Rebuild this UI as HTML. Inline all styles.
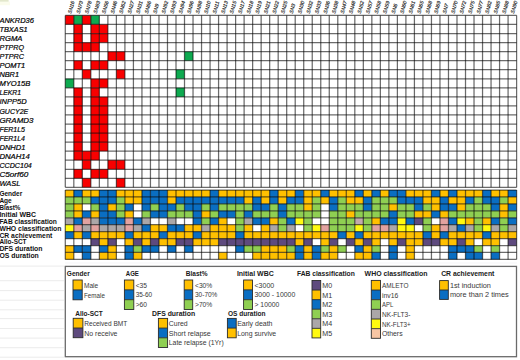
<!DOCTYPE html><html><head><meta charset="utf-8"><style>html,body{margin:0;padding:0;background:#fff;}body{width:520px;height:360px;overflow:hidden;}svg{display:block;font-family:"Liberation Sans",sans-serif;}</style></head><body>
<svg width="520" height="360" viewBox="0 0 520 360">
<rect x="0" y="0" width="520" height="360" fill="#fff"/>
<rect x="0" y="1.6" width="10" height="3.6" fill="#fbfcec"/>
<rect x="0" y="0" width="8.6" height="1.7" fill="#e3e8cc"/>
<rect x="0" y="265.60" width="64" height="1" fill="#ececec"/>
<rect x="0" y="280.20" width="64" height="1" fill="#ececec"/>
<rect x="0" y="290.10" width="64" height="1" fill="#ececec"/>
<rect x="0" y="299.70" width="64" height="1" fill="#ececec"/>
<rect x="0" y="309.30" width="64" height="1" fill="#ececec"/>
<rect x="0" y="318.10" width="64" height="1" fill="#ececec"/>
<rect x="0" y="328.00" width="64" height="1" fill="#ececec"/>
<rect x="0" y="337.60" width="64" height="1" fill="#ececec"/>
<rect x="0" y="347.20" width="64" height="1" fill="#ececec"/>
<rect x="0" y="356.70" width="64" height="1" fill="#ececec"/>
<text transform="translate(71.30,13.80) rotate(-75)" font-size="5.1" font-style="italic" fill="#1a1a1a" stroke="#1a1a1a" stroke-width="0.15">SN16</text>
<text transform="translate(79.81,13.80) rotate(-75)" font-size="5.1" font-style="italic" fill="#1a1a1a" stroke="#1a1a1a" stroke-width="0.15">SN73</text>
<text transform="translate(88.33,13.80) rotate(-75)" font-size="5.1" font-style="italic" fill="#1a1a1a" stroke="#1a1a1a" stroke-width="0.15">SN78</text>
<text transform="translate(96.84,13.80) rotate(-75)" font-size="5.1" font-style="italic" fill="#1a1a1a" stroke="#1a1a1a" stroke-width="0.15">SN83</text>
<text transform="translate(105.36,13.80) rotate(-75)" font-size="5.1" font-style="italic" fill="#1a1a1a" stroke="#1a1a1a" stroke-width="0.15">SN56</text>
<text transform="translate(113.88,13.80) rotate(-75)" font-size="5.1" font-style="italic" fill="#1a1a1a" stroke="#1a1a1a" stroke-width="0.15">SN46</text>
<text transform="translate(122.39,13.80) rotate(-75)" font-size="5.1" font-style="italic" fill="#1a1a1a" stroke="#1a1a1a" stroke-width="0.15">SN62</text>
<text transform="translate(130.91,13.80) rotate(-75)" font-size="5.1" font-style="italic" fill="#1a1a1a" stroke="#1a1a1a" stroke-width="0.15">SN27</text>
<text transform="translate(139.42,13.80) rotate(-75)" font-size="5.1" font-style="italic" fill="#1a1a1a" stroke="#1a1a1a" stroke-width="0.15">SN31</text>
<text transform="translate(147.94,13.80) rotate(-75)" font-size="5.1" font-style="italic" fill="#1a1a1a" stroke="#1a1a1a" stroke-width="0.15">SN66</text>
<text transform="translate(156.45,13.80) rotate(-75)" font-size="5.1" font-style="italic" fill="#1a1a1a" stroke="#1a1a1a" stroke-width="0.15">SN9</text>
<text transform="translate(164.97,13.80) rotate(-75)" font-size="5.1" font-style="italic" fill="#1a1a1a" stroke="#1a1a1a" stroke-width="0.15">SN92</text>
<text transform="translate(173.48,13.80) rotate(-75)" font-size="5.1" font-style="italic" fill="#1a1a1a" stroke="#1a1a1a" stroke-width="0.15">SN93</text>
<text transform="translate(182.00,13.80) rotate(-75)" font-size="5.1" font-style="italic" fill="#1a1a1a" stroke="#1a1a1a" stroke-width="0.15">SN94</text>
<text transform="translate(190.51,13.80) rotate(-75)" font-size="5.1" font-style="italic" fill="#1a1a1a" stroke="#1a1a1a" stroke-width="0.15">SN96</text>
<text transform="translate(199.03,13.80) rotate(-75)" font-size="5.1" font-style="italic" fill="#1a1a1a" stroke="#1a1a1a" stroke-width="0.15">SN98</text>
<text transform="translate(207.54,13.80) rotate(-75)" font-size="5.1" font-style="italic" fill="#1a1a1a" stroke="#1a1a1a" stroke-width="0.15">SN10</text>
<text transform="translate(216.06,13.80) rotate(-75)" font-size="5.1" font-style="italic" fill="#1a1a1a" stroke="#1a1a1a" stroke-width="0.15">SN11</text>
<text transform="translate(224.57,13.80) rotate(-75)" font-size="5.1" font-style="italic" fill="#1a1a1a" stroke="#1a1a1a" stroke-width="0.15">SN13</text>
<text transform="translate(233.09,13.80) rotate(-75)" font-size="5.1" font-style="italic" fill="#1a1a1a" stroke="#1a1a1a" stroke-width="0.15">SN15</text>
<text transform="translate(241.60,13.80) rotate(-75)" font-size="5.1" font-style="italic" fill="#1a1a1a" stroke="#1a1a1a" stroke-width="0.15">SN17</text>
<text transform="translate(250.12,13.80) rotate(-75)" font-size="5.1" font-style="italic" fill="#1a1a1a" stroke="#1a1a1a" stroke-width="0.15">SN18</text>
<text transform="translate(258.63,13.80) rotate(-75)" font-size="5.1" font-style="italic" fill="#1a1a1a" stroke="#1a1a1a" stroke-width="0.15">SN19</text>
<text transform="translate(267.15,13.80) rotate(-75)" font-size="5.1" font-style="italic" fill="#1a1a1a" stroke="#1a1a1a" stroke-width="0.15">SN21</text>
<text transform="translate(275.66,13.80) rotate(-75)" font-size="5.1" font-style="italic" fill="#1a1a1a" stroke="#1a1a1a" stroke-width="0.15">SN22</text>
<text transform="translate(284.18,13.80) rotate(-75)" font-size="5.1" font-style="italic" fill="#1a1a1a" stroke="#1a1a1a" stroke-width="0.15">SN25</text>
<text transform="translate(292.69,13.80) rotate(-75)" font-size="5.1" font-style="italic" fill="#1a1a1a" stroke="#1a1a1a" stroke-width="0.15">SN3</text>
<text transform="translate(301.21,13.80) rotate(-75)" font-size="5.1" font-style="italic" fill="#1a1a1a" stroke="#1a1a1a" stroke-width="0.15">SN30</text>
<text transform="translate(309.72,13.80) rotate(-75)" font-size="5.1" font-style="italic" fill="#1a1a1a" stroke="#1a1a1a" stroke-width="0.15">SN32</text>
<text transform="translate(318.24,13.80) rotate(-75)" font-size="5.1" font-style="italic" fill="#1a1a1a" stroke="#1a1a1a" stroke-width="0.15">SN33</text>
<text transform="translate(326.75,13.80) rotate(-75)" font-size="5.1" font-style="italic" fill="#1a1a1a" stroke="#1a1a1a" stroke-width="0.15">SN36</text>
<text transform="translate(335.27,13.80) rotate(-75)" font-size="5.1" font-style="italic" fill="#1a1a1a" stroke="#1a1a1a" stroke-width="0.15">SN38</text>
<text transform="translate(343.78,13.80) rotate(-75)" font-size="5.1" font-style="italic" fill="#1a1a1a" stroke="#1a1a1a" stroke-width="0.15">SN47</text>
<text transform="translate(352.30,13.80) rotate(-75)" font-size="5.1" font-style="italic" fill="#1a1a1a" stroke="#1a1a1a" stroke-width="0.15">SN48</text>
<text transform="translate(360.81,13.80) rotate(-75)" font-size="5.1" font-style="italic" fill="#1a1a1a" stroke="#1a1a1a" stroke-width="0.15">SN52</text>
<text transform="translate(369.33,13.80) rotate(-75)" font-size="5.1" font-style="italic" fill="#1a1a1a" stroke="#1a1a1a" stroke-width="0.15">SN57</text>
<text transform="translate(377.84,13.80) rotate(-75)" font-size="5.1" font-style="italic" fill="#1a1a1a" stroke="#1a1a1a" stroke-width="0.15">SN58</text>
<text transform="translate(386.36,13.80) rotate(-75)" font-size="5.1" font-style="italic" fill="#1a1a1a" stroke="#1a1a1a" stroke-width="0.15">SN59</text>
<text transform="translate(394.87,13.80) rotate(-75)" font-size="5.1" font-style="italic" fill="#1a1a1a" stroke="#1a1a1a" stroke-width="0.15">SN6</text>
<text transform="translate(403.39,13.80) rotate(-75)" font-size="5.1" font-style="italic" fill="#1a1a1a" stroke="#1a1a1a" stroke-width="0.15">SN60</text>
<text transform="translate(411.90,13.80) rotate(-75)" font-size="5.1" font-style="italic" fill="#1a1a1a" stroke="#1a1a1a" stroke-width="0.15">SN61</text>
<text transform="translate(420.42,13.80) rotate(-75)" font-size="5.1" font-style="italic" fill="#1a1a1a" stroke="#1a1a1a" stroke-width="0.15">SN65</text>
<text transform="translate(428.93,13.80) rotate(-75)" font-size="5.1" font-style="italic" fill="#1a1a1a" stroke="#1a1a1a" stroke-width="0.15">SN68</text>
<text transform="translate(437.45,13.80) rotate(-75)" font-size="5.1" font-style="italic" fill="#1a1a1a" stroke="#1a1a1a" stroke-width="0.15">SN69</text>
<text transform="translate(445.96,13.80) rotate(-75)" font-size="5.1" font-style="italic" fill="#1a1a1a" stroke="#1a1a1a" stroke-width="0.15">SN7</text>
<text transform="translate(454.48,13.80) rotate(-75)" font-size="5.1" font-style="italic" fill="#1a1a1a" stroke="#1a1a1a" stroke-width="0.15">SN70</text>
<text transform="translate(462.99,13.80) rotate(-75)" font-size="5.1" font-style="italic" fill="#1a1a1a" stroke="#1a1a1a" stroke-width="0.15">SN72</text>
<text transform="translate(471.51,13.80) rotate(-75)" font-size="5.1" font-style="italic" fill="#1a1a1a" stroke="#1a1a1a" stroke-width="0.15">SN75</text>
<text transform="translate(480.02,13.80) rotate(-75)" font-size="5.1" font-style="italic" fill="#1a1a1a" stroke="#1a1a1a" stroke-width="0.15">SN77</text>
<text transform="translate(488.54,13.80) rotate(-75)" font-size="5.1" font-style="italic" fill="#1a1a1a" stroke="#1a1a1a" stroke-width="0.15">SN82</text>
<text transform="translate(497.05,13.80) rotate(-75)" font-size="5.1" font-style="italic" fill="#1a1a1a" stroke="#1a1a1a" stroke-width="0.15">SN85</text>
<text transform="translate(505.57,13.80) rotate(-75)" font-size="5.1" font-style="italic" fill="#1a1a1a" stroke="#1a1a1a" stroke-width="0.15">SN88</text>
<text transform="translate(514.08,13.80) rotate(-75)" font-size="5.1" font-style="italic" fill="#1a1a1a" stroke="#1a1a1a" stroke-width="0.15">SN90</text>
<rect x="65.30" y="15.40" width="8.515" height="9.050" fill="#F80000"/>
<rect x="73.81" y="15.40" width="8.515" height="9.050" fill="#0EAA50"/>
<rect x="82.33" y="15.40" width="8.515" height="9.050" fill="#F80000"/>
<rect x="90.84" y="15.40" width="8.515" height="9.050" fill="#0EAA50"/>
<rect x="73.81" y="24.45" width="8.515" height="9.050" fill="#F80000"/>
<rect x="90.84" y="24.45" width="8.515" height="9.050" fill="#F80000"/>
<rect x="99.36" y="24.45" width="8.515" height="9.050" fill="#F80000"/>
<rect x="73.81" y="33.50" width="8.515" height="9.050" fill="#F80000"/>
<rect x="90.84" y="33.50" width="8.515" height="9.050" fill="#F80000"/>
<rect x="99.36" y="33.50" width="8.515" height="9.050" fill="#F80000"/>
<rect x="73.81" y="42.55" width="8.515" height="9.050" fill="#F80000"/>
<rect x="82.33" y="42.55" width="8.515" height="9.050" fill="#F80000"/>
<rect x="90.84" y="42.55" width="8.515" height="9.050" fill="#F80000"/>
<rect x="107.88" y="51.60" width="8.515" height="9.050" fill="#F80000"/>
<rect x="116.39" y="51.60" width="8.515" height="9.050" fill="#F80000"/>
<rect x="184.51" y="51.60" width="8.515" height="9.050" fill="#0EAA50"/>
<rect x="73.81" y="60.65" width="8.515" height="9.050" fill="#F80000"/>
<rect x="90.84" y="60.65" width="8.515" height="9.050" fill="#F80000"/>
<rect x="99.36" y="60.65" width="8.515" height="9.050" fill="#F80000"/>
<rect x="82.33" y="69.70" width="8.515" height="9.050" fill="#F80000"/>
<rect x="116.39" y="69.70" width="8.515" height="9.050" fill="#F80000"/>
<rect x="176.00" y="69.70" width="8.515" height="9.050" fill="#0EAA50"/>
<rect x="65.30" y="78.75" width="8.515" height="9.050" fill="#0EAA50"/>
<rect x="90.84" y="78.75" width="8.515" height="9.050" fill="#F80000"/>
<rect x="99.36" y="78.75" width="8.515" height="9.050" fill="#F80000"/>
<rect x="73.81" y="87.80" width="8.515" height="9.050" fill="#F80000"/>
<rect x="90.84" y="87.80" width="8.515" height="9.050" fill="#F80000"/>
<rect x="176.00" y="87.80" width="8.515" height="9.050" fill="#0EAA50"/>
<rect x="73.81" y="96.85" width="8.515" height="9.050" fill="#F80000"/>
<rect x="90.84" y="96.85" width="8.515" height="9.050" fill="#F80000"/>
<rect x="99.36" y="96.85" width="8.515" height="9.050" fill="#F80000"/>
<rect x="73.81" y="105.90" width="8.515" height="9.050" fill="#F80000"/>
<rect x="90.84" y="105.90" width="8.515" height="9.050" fill="#F80000"/>
<rect x="99.36" y="105.90" width="8.515" height="9.050" fill="#F80000"/>
<rect x="73.81" y="114.95" width="8.515" height="9.050" fill="#F80000"/>
<rect x="90.84" y="114.95" width="8.515" height="9.050" fill="#F80000"/>
<rect x="99.36" y="114.95" width="8.515" height="9.050" fill="#F80000"/>
<rect x="73.81" y="124.00" width="8.515" height="9.050" fill="#F80000"/>
<rect x="90.84" y="124.00" width="8.515" height="9.050" fill="#F80000"/>
<rect x="99.36" y="124.00" width="8.515" height="9.050" fill="#F80000"/>
<rect x="73.81" y="133.05" width="8.515" height="9.050" fill="#F80000"/>
<rect x="90.84" y="133.05" width="8.515" height="9.050" fill="#F80000"/>
<rect x="99.36" y="133.05" width="8.515" height="9.050" fill="#F80000"/>
<rect x="73.81" y="142.10" width="8.515" height="9.050" fill="#F80000"/>
<rect x="90.84" y="142.10" width="8.515" height="9.050" fill="#F80000"/>
<rect x="99.36" y="142.10" width="8.515" height="9.050" fill="#F80000"/>
<rect x="73.81" y="151.15" width="8.515" height="9.050" fill="#F80000"/>
<rect x="82.33" y="151.15" width="8.515" height="9.050" fill="#F80000"/>
<rect x="90.84" y="151.15" width="8.515" height="9.050" fill="#F80000"/>
<rect x="82.33" y="160.20" width="8.515" height="9.050" fill="#F80000"/>
<rect x="107.88" y="160.20" width="8.515" height="9.050" fill="#F80000"/>
<rect x="116.39" y="160.20" width="8.515" height="9.050" fill="#F80000"/>
<rect x="73.81" y="169.25" width="8.515" height="9.050" fill="#F80000"/>
<rect x="90.84" y="169.25" width="8.515" height="9.050" fill="#F80000"/>
<rect x="99.36" y="169.25" width="8.515" height="9.050" fill="#F80000"/>
<rect x="82.33" y="178.30" width="8.515" height="9.050" fill="#F80000"/>
<rect x="116.39" y="178.30" width="8.515" height="9.050" fill="#F80000"/>
<g stroke="#000" stroke-opacity="0.58" stroke-width="1.25">
<line x1="65.30" y1="15.40" x2="65.30" y2="187.35"/>
<line x1="73.81" y1="15.40" x2="73.81" y2="187.35"/>
<line x1="82.33" y1="15.40" x2="82.33" y2="187.35"/>
<line x1="90.84" y1="15.40" x2="90.84" y2="187.35"/>
<line x1="99.36" y1="15.40" x2="99.36" y2="187.35"/>
<line x1="107.88" y1="15.40" x2="107.88" y2="187.35"/>
<line x1="116.39" y1="15.40" x2="116.39" y2="187.35"/>
<line x1="124.91" y1="15.40" x2="124.91" y2="187.35"/>
<line x1="133.42" y1="15.40" x2="133.42" y2="187.35"/>
<line x1="141.94" y1="15.40" x2="141.94" y2="187.35"/>
<line x1="150.45" y1="15.40" x2="150.45" y2="187.35"/>
<line x1="158.97" y1="15.40" x2="158.97" y2="187.35"/>
<line x1="167.48" y1="15.40" x2="167.48" y2="187.35"/>
<line x1="176.00" y1="15.40" x2="176.00" y2="187.35"/>
<line x1="184.51" y1="15.40" x2="184.51" y2="187.35"/>
<line x1="193.03" y1="15.40" x2="193.03" y2="187.35"/>
<line x1="201.54" y1="15.40" x2="201.54" y2="187.35"/>
<line x1="210.06" y1="15.40" x2="210.06" y2="187.35"/>
<line x1="218.57" y1="15.40" x2="218.57" y2="187.35"/>
<line x1="227.09" y1="15.40" x2="227.09" y2="187.35"/>
<line x1="235.60" y1="15.40" x2="235.60" y2="187.35"/>
<line x1="244.12" y1="15.40" x2="244.12" y2="187.35"/>
<line x1="252.63" y1="15.40" x2="252.63" y2="187.35"/>
<line x1="261.15" y1="15.40" x2="261.15" y2="187.35"/>
<line x1="269.66" y1="15.40" x2="269.66" y2="187.35"/>
<line x1="278.18" y1="15.40" x2="278.18" y2="187.35"/>
<line x1="286.69" y1="15.40" x2="286.69" y2="187.35"/>
<line x1="295.21" y1="15.40" x2="295.21" y2="187.35"/>
<line x1="303.72" y1="15.40" x2="303.72" y2="187.35"/>
<line x1="312.24" y1="15.40" x2="312.24" y2="187.35"/>
<line x1="320.75" y1="15.40" x2="320.75" y2="187.35"/>
<line x1="329.27" y1="15.40" x2="329.27" y2="187.35"/>
<line x1="337.78" y1="15.40" x2="337.78" y2="187.35"/>
<line x1="346.30" y1="15.40" x2="346.30" y2="187.35"/>
<line x1="354.81" y1="15.40" x2="354.81" y2="187.35"/>
<line x1="363.33" y1="15.40" x2="363.33" y2="187.35"/>
<line x1="371.84" y1="15.40" x2="371.84" y2="187.35"/>
<line x1="380.36" y1="15.40" x2="380.36" y2="187.35"/>
<line x1="388.87" y1="15.40" x2="388.87" y2="187.35"/>
<line x1="397.39" y1="15.40" x2="397.39" y2="187.35"/>
<line x1="405.90" y1="15.40" x2="405.90" y2="187.35"/>
<line x1="414.42" y1="15.40" x2="414.42" y2="187.35"/>
<line x1="422.93" y1="15.40" x2="422.93" y2="187.35"/>
<line x1="431.45" y1="15.40" x2="431.45" y2="187.35"/>
<line x1="439.96" y1="15.40" x2="439.96" y2="187.35"/>
<line x1="448.48" y1="15.40" x2="448.48" y2="187.35"/>
<line x1="456.99" y1="15.40" x2="456.99" y2="187.35"/>
<line x1="465.51" y1="15.40" x2="465.51" y2="187.35"/>
<line x1="474.02" y1="15.40" x2="474.02" y2="187.35"/>
<line x1="482.54" y1="15.40" x2="482.54" y2="187.35"/>
<line x1="491.05" y1="15.40" x2="491.05" y2="187.35"/>
<line x1="499.57" y1="15.40" x2="499.57" y2="187.35"/>
<line x1="508.08" y1="15.40" x2="508.08" y2="187.35"/>
<line x1="516.60" y1="15.40" x2="516.60" y2="187.35"/>
<line x1="65.30" y1="15.40" x2="516.60" y2="15.40"/>
<line x1="65.30" y1="24.45" x2="516.60" y2="24.45"/>
<line x1="65.30" y1="33.50" x2="516.60" y2="33.50"/>
<line x1="65.30" y1="42.55" x2="516.60" y2="42.55"/>
<line x1="65.30" y1="51.60" x2="516.60" y2="51.60"/>
<line x1="65.30" y1="60.65" x2="516.60" y2="60.65"/>
<line x1="65.30" y1="69.70" x2="516.60" y2="69.70"/>
<line x1="65.30" y1="78.75" x2="516.60" y2="78.75"/>
<line x1="65.30" y1="87.80" x2="516.60" y2="87.80"/>
<line x1="65.30" y1="96.85" x2="516.60" y2="96.85"/>
<line x1="65.30" y1="105.90" x2="516.60" y2="105.90"/>
<line x1="65.30" y1="114.95" x2="516.60" y2="114.95"/>
<line x1="65.30" y1="124.00" x2="516.60" y2="124.00"/>
<line x1="65.30" y1="133.05" x2="516.60" y2="133.05"/>
<line x1="65.30" y1="142.10" x2="516.60" y2="142.10"/>
<line x1="65.30" y1="151.15" x2="516.60" y2="151.15"/>
<line x1="65.30" y1="160.20" x2="516.60" y2="160.20"/>
<line x1="65.30" y1="169.25" x2="516.60" y2="169.25"/>
<line x1="65.30" y1="178.30" x2="516.60" y2="178.30"/>
<line x1="65.30" y1="187.35" x2="516.60" y2="187.35"/>
</g>
<text x="-0.6" y="23.03" font-size="7.7" font-style="italic" fill="#000" stroke="#000" stroke-width="0.2" textLength="34.5" lengthAdjust="spacingAndGlyphs">ANKRD36</text>
<text x="-0.6" y="32.08" font-size="7.7" font-style="italic" fill="#000" stroke="#000" stroke-width="0.2" textLength="28.3" lengthAdjust="spacingAndGlyphs">TBXAS1</text>
<text x="-0.6" y="41.12" font-size="7.7" font-style="italic" fill="#000" stroke="#000" stroke-width="0.2" textLength="23.1" lengthAdjust="spacingAndGlyphs">RGMA</text>
<text x="-0.6" y="50.18" font-size="7.7" font-style="italic" fill="#000" stroke="#000" stroke-width="0.2" textLength="24.7" lengthAdjust="spacingAndGlyphs">PTPRQ</text>
<text x="-0.6" y="59.23" font-size="7.7" font-style="italic" fill="#000" stroke="#000" stroke-width="0.2" textLength="24.7" lengthAdjust="spacingAndGlyphs">PTPRC</text>
<text x="-0.6" y="68.27" font-size="7.7" font-style="italic" fill="#000" stroke="#000" stroke-width="0.2" textLength="25.9" lengthAdjust="spacingAndGlyphs">POMT1</text>
<text x="-0.6" y="77.33" font-size="7.7" font-style="italic" fill="#000" stroke="#000" stroke-width="0.2" textLength="19.6" lengthAdjust="spacingAndGlyphs">NBR1</text>
<text x="-0.6" y="86.38" font-size="7.7" font-style="italic" fill="#000" stroke="#000" stroke-width="0.2" textLength="30.9" lengthAdjust="spacingAndGlyphs">MYO15B</text>
<text x="-0.6" y="95.43" font-size="7.7" font-style="italic" fill="#000" stroke="#000" stroke-width="0.2" textLength="21.6" lengthAdjust="spacingAndGlyphs">LEKR1</text>
<text x="-0.6" y="104.48" font-size="7.7" font-style="italic" fill="#000" stroke="#000" stroke-width="0.2" textLength="27.3" lengthAdjust="spacingAndGlyphs">INPP5D</text>
<text x="-0.6" y="113.53" font-size="7.7" font-style="italic" fill="#000" stroke="#000" stroke-width="0.2" textLength="28.9" lengthAdjust="spacingAndGlyphs">GUCY2E</text>
<text x="-0.6" y="122.58" font-size="7.7" font-style="italic" fill="#000" stroke="#000" stroke-width="0.2" textLength="34.0" lengthAdjust="spacingAndGlyphs">GRAMD3</text>
<text x="-0.6" y="131.62" font-size="7.7" font-style="italic" fill="#000" stroke="#000" stroke-width="0.2" textLength="25.6" lengthAdjust="spacingAndGlyphs">FER1L5</text>
<text x="-0.6" y="140.68" font-size="7.7" font-style="italic" fill="#000" stroke="#000" stroke-width="0.2" textLength="25.6" lengthAdjust="spacingAndGlyphs">FER1L4</text>
<text x="-0.6" y="149.73" font-size="7.7" font-style="italic" fill="#000" stroke="#000" stroke-width="0.2" textLength="26.1" lengthAdjust="spacingAndGlyphs">DNHD1</text>
<text x="-0.6" y="158.78" font-size="7.7" font-style="italic" fill="#000" stroke="#000" stroke-width="0.2" textLength="30.5" lengthAdjust="spacingAndGlyphs">DNAH14</text>
<text x="-0.6" y="167.83" font-size="7.7" font-style="italic" fill="#000" stroke="#000" stroke-width="0.2" textLength="32.4" lengthAdjust="spacingAndGlyphs">CCDC104</text>
<text x="-0.6" y="176.88" font-size="7.7" font-style="italic" fill="#000" stroke="#000" stroke-width="0.2" textLength="29.0" lengthAdjust="spacingAndGlyphs">C5orf60</text>
<text x="-0.6" y="185.93" font-size="7.7" font-style="italic" fill="#000" stroke="#000" stroke-width="0.2" textLength="21.0" lengthAdjust="spacingAndGlyphs">WASL</text>
<rect x="65.30" y="190.00" width="8.515" height="6.940" fill="#FFC000"/>
<rect x="73.81" y="190.00" width="8.515" height="6.940" fill="#0A6EC2"/>
<rect x="82.33" y="190.00" width="8.515" height="6.940" fill="#FFC000"/>
<rect x="90.84" y="190.00" width="8.515" height="6.940" fill="#FFC000"/>
<rect x="99.36" y="190.00" width="8.515" height="6.940" fill="#0A6EC2"/>
<rect x="107.88" y="190.00" width="8.515" height="6.940" fill="#0A6EC2"/>
<rect x="116.39" y="190.00" width="8.515" height="6.940" fill="#FFC000"/>
<rect x="124.91" y="190.00" width="8.515" height="6.940" fill="#FFC000"/>
<rect x="133.42" y="190.00" width="8.515" height="6.940" fill="#FFC000"/>
<rect x="141.94" y="190.00" width="8.515" height="6.940" fill="#0A6EC2"/>
<rect x="150.45" y="190.00" width="8.515" height="6.940" fill="#0A6EC2"/>
<rect x="158.97" y="190.00" width="8.515" height="6.940" fill="#0A6EC2"/>
<rect x="167.48" y="190.00" width="8.515" height="6.940" fill="#FFC000"/>
<rect x="176.00" y="190.00" width="8.515" height="6.940" fill="#FFC000"/>
<rect x="184.51" y="190.00" width="8.515" height="6.940" fill="#FFC000"/>
<rect x="193.03" y="190.00" width="8.515" height="6.940" fill="#FFC000"/>
<rect x="201.54" y="190.00" width="8.515" height="6.940" fill="#FFC000"/>
<rect x="210.06" y="190.00" width="8.515" height="6.940" fill="#0A6EC2"/>
<rect x="218.57" y="190.00" width="8.515" height="6.940" fill="#FFC000"/>
<rect x="227.09" y="190.00" width="8.515" height="6.940" fill="#FFC000"/>
<rect x="235.60" y="190.00" width="8.515" height="6.940" fill="#FFC000"/>
<rect x="244.12" y="190.00" width="8.515" height="6.940" fill="#FFC000"/>
<rect x="252.63" y="190.00" width="8.515" height="6.940" fill="#FFC000"/>
<rect x="261.15" y="190.00" width="8.515" height="6.940" fill="#FFC000"/>
<rect x="269.66" y="190.00" width="8.515" height="6.940" fill="#0A6EC2"/>
<rect x="278.18" y="190.00" width="8.515" height="6.940" fill="#FFC000"/>
<rect x="286.69" y="190.00" width="8.515" height="6.940" fill="#FFC000"/>
<rect x="295.21" y="190.00" width="8.515" height="6.940" fill="#0A6EC2"/>
<rect x="303.72" y="190.00" width="8.515" height="6.940" fill="#FFC000"/>
<rect x="312.24" y="190.00" width="8.515" height="6.940" fill="#FFC000"/>
<rect x="320.75" y="190.00" width="8.515" height="6.940" fill="#0A6EC2"/>
<rect x="329.27" y="190.00" width="8.515" height="6.940" fill="#FFC000"/>
<rect x="337.78" y="190.00" width="8.515" height="6.940" fill="#FFC000"/>
<rect x="346.30" y="190.00" width="8.515" height="6.940" fill="#FFC000"/>
<rect x="354.81" y="190.00" width="8.515" height="6.940" fill="#0A6EC2"/>
<rect x="363.33" y="190.00" width="8.515" height="6.940" fill="#FFC000"/>
<rect x="371.84" y="190.00" width="8.515" height="6.940" fill="#0A6EC2"/>
<rect x="380.36" y="190.00" width="8.515" height="6.940" fill="#FFC000"/>
<rect x="388.87" y="190.00" width="8.515" height="6.940" fill="#0A6EC2"/>
<rect x="397.39" y="190.00" width="8.515" height="6.940" fill="#0A6EC2"/>
<rect x="405.90" y="190.00" width="8.515" height="6.940" fill="#FFC000"/>
<rect x="414.42" y="190.00" width="8.515" height="6.940" fill="#FFC000"/>
<rect x="422.93" y="190.00" width="8.515" height="6.940" fill="#FFC000"/>
<rect x="431.45" y="190.00" width="8.515" height="6.940" fill="#0A6EC2"/>
<rect x="439.96" y="190.00" width="8.515" height="6.940" fill="#FFC000"/>
<rect x="448.48" y="190.00" width="8.515" height="6.940" fill="#0A6EC2"/>
<rect x="456.99" y="190.00" width="8.515" height="6.940" fill="#FFC000"/>
<rect x="465.51" y="190.00" width="8.515" height="6.940" fill="#FFC000"/>
<rect x="474.02" y="190.00" width="8.515" height="6.940" fill="#FFC000"/>
<rect x="482.54" y="190.00" width="8.515" height="6.940" fill="#0A6EC2"/>
<rect x="491.05" y="190.00" width="8.515" height="6.940" fill="#FFC000"/>
<rect x="499.57" y="190.00" width="8.515" height="6.940" fill="#FFC000"/>
<rect x="508.08" y="190.00" width="8.515" height="6.940" fill="#0A6EC2"/>
<rect x="65.30" y="196.94" width="8.515" height="6.940" fill="#8FCF52"/>
<rect x="73.81" y="196.94" width="8.515" height="6.940" fill="#8FCF52"/>
<rect x="82.33" y="196.94" width="8.515" height="6.940" fill="#8FCF52"/>
<rect x="90.84" y="196.94" width="8.515" height="6.940" fill="#0A6EC2"/>
<rect x="99.36" y="196.94" width="8.515" height="6.940" fill="#0A6EC2"/>
<rect x="107.88" y="196.94" width="8.515" height="6.940" fill="#0A6EC2"/>
<rect x="116.39" y="196.94" width="8.515" height="6.940" fill="#8FCF52"/>
<rect x="124.91" y="196.94" width="8.515" height="6.940" fill="#FFC000"/>
<rect x="133.42" y="196.94" width="8.515" height="6.940" fill="#FFC000"/>
<rect x="141.94" y="196.94" width="8.515" height="6.940" fill="#0A6EC2"/>
<rect x="150.45" y="196.94" width="8.515" height="6.940" fill="#0A6EC2"/>
<rect x="158.97" y="196.94" width="8.515" height="6.940" fill="#0A6EC2"/>
<rect x="167.48" y="196.94" width="8.515" height="6.940" fill="#FFC000"/>
<rect x="176.00" y="196.94" width="8.515" height="6.940" fill="#0A6EC2"/>
<rect x="184.51" y="196.94" width="8.515" height="6.940" fill="#0A6EC2"/>
<rect x="193.03" y="196.94" width="8.515" height="6.940" fill="#0A6EC2"/>
<rect x="201.54" y="196.94" width="8.515" height="6.940" fill="#0A6EC2"/>
<rect x="210.06" y="196.94" width="8.515" height="6.940" fill="#0A6EC2"/>
<rect x="218.57" y="196.94" width="8.515" height="6.940" fill="#0A6EC2"/>
<rect x="227.09" y="196.94" width="8.515" height="6.940" fill="#0A6EC2"/>
<rect x="235.60" y="196.94" width="8.515" height="6.940" fill="#0A6EC2"/>
<rect x="244.12" y="196.94" width="8.515" height="6.940" fill="#FFC000"/>
<rect x="252.63" y="196.94" width="8.515" height="6.940" fill="#0A6EC2"/>
<rect x="261.15" y="196.94" width="8.515" height="6.940" fill="#FFC000"/>
<rect x="269.66" y="196.94" width="8.515" height="6.940" fill="#0A6EC2"/>
<rect x="278.18" y="196.94" width="8.515" height="6.940" fill="#FFC000"/>
<rect x="286.69" y="196.94" width="8.515" height="6.940" fill="#0A6EC2"/>
<rect x="295.21" y="196.94" width="8.515" height="6.940" fill="#0A6EC2"/>
<rect x="303.72" y="196.94" width="8.515" height="6.940" fill="#FFC000"/>
<rect x="312.24" y="196.94" width="8.515" height="6.940" fill="#8FCF52"/>
<rect x="320.75" y="196.94" width="8.515" height="6.940" fill="#FFC000"/>
<rect x="329.27" y="196.94" width="8.515" height="6.940" fill="#0A6EC2"/>
<rect x="337.78" y="196.94" width="8.515" height="6.940" fill="#8FCF52"/>
<rect x="346.30" y="196.94" width="8.515" height="6.940" fill="#FFC000"/>
<rect x="354.81" y="196.94" width="8.515" height="6.940" fill="#FFC000"/>
<rect x="363.33" y="196.94" width="8.515" height="6.940" fill="#0A6EC2"/>
<rect x="371.84" y="196.94" width="8.515" height="6.940" fill="#8FCF52"/>
<rect x="380.36" y="196.94" width="8.515" height="6.940" fill="#8FCF52"/>
<rect x="388.87" y="196.94" width="8.515" height="6.940" fill="#8FCF52"/>
<rect x="397.39" y="196.94" width="8.515" height="6.940" fill="#0A6EC2"/>
<rect x="405.90" y="196.94" width="8.515" height="6.940" fill="#0A6EC2"/>
<rect x="414.42" y="196.94" width="8.515" height="6.940" fill="#0A6EC2"/>
<rect x="422.93" y="196.94" width="8.515" height="6.940" fill="#FFC000"/>
<rect x="431.45" y="196.94" width="8.515" height="6.940" fill="#FFC000"/>
<rect x="439.96" y="196.94" width="8.515" height="6.940" fill="#0A6EC2"/>
<rect x="448.48" y="196.94" width="8.515" height="6.940" fill="#FFC000"/>
<rect x="456.99" y="196.94" width="8.515" height="6.940" fill="#FFC000"/>
<rect x="465.51" y="196.94" width="8.515" height="6.940" fill="#0A6EC2"/>
<rect x="474.02" y="196.94" width="8.515" height="6.940" fill="#8FCF52"/>
<rect x="482.54" y="196.94" width="8.515" height="6.940" fill="#0A6EC2"/>
<rect x="491.05" y="196.94" width="8.515" height="6.940" fill="#0A6EC2"/>
<rect x="499.57" y="196.94" width="8.515" height="6.940" fill="#8FCF52"/>
<rect x="508.08" y="196.94" width="8.515" height="6.940" fill="#FFC000"/>
<rect x="65.30" y="203.88" width="8.515" height="6.940" fill="#8FCF52"/>
<rect x="73.81" y="203.88" width="8.515" height="6.940" fill="#FFC000"/>
<rect x="90.84" y="203.88" width="8.515" height="6.940" fill="#8FCF52"/>
<rect x="99.36" y="203.88" width="8.515" height="6.940" fill="#0A6EC2"/>
<rect x="107.88" y="203.88" width="8.515" height="6.940" fill="#FFC000"/>
<rect x="116.39" y="203.88" width="8.515" height="6.940" fill="#8FCF52"/>
<rect x="124.91" y="203.88" width="8.515" height="6.940" fill="#0A6EC2"/>
<rect x="141.94" y="203.88" width="8.515" height="6.940" fill="#0A6EC2"/>
<rect x="150.45" y="203.88" width="8.515" height="6.940" fill="#8FCF52"/>
<rect x="158.97" y="203.88" width="8.515" height="6.940" fill="#0A6EC2"/>
<rect x="167.48" y="203.88" width="8.515" height="6.940" fill="#0A6EC2"/>
<rect x="176.00" y="203.88" width="8.515" height="6.940" fill="#8FCF52"/>
<rect x="184.51" y="203.88" width="8.515" height="6.940" fill="#0A6EC2"/>
<rect x="193.03" y="203.88" width="8.515" height="6.940" fill="#0A6EC2"/>
<rect x="201.54" y="203.88" width="8.515" height="6.940" fill="#8FCF52"/>
<rect x="210.06" y="203.88" width="8.515" height="6.940" fill="#0A6EC2"/>
<rect x="218.57" y="203.88" width="8.515" height="6.940" fill="#8FCF52"/>
<rect x="227.09" y="203.88" width="8.515" height="6.940" fill="#8FCF52"/>
<rect x="235.60" y="203.88" width="8.515" height="6.940" fill="#8FCF52"/>
<rect x="244.12" y="203.88" width="8.515" height="6.940" fill="#8FCF52"/>
<rect x="252.63" y="203.88" width="8.515" height="6.940" fill="#0A6EC2"/>
<rect x="261.15" y="203.88" width="8.515" height="6.940" fill="#0A6EC2"/>
<rect x="269.66" y="203.88" width="8.515" height="6.940" fill="#8FCF52"/>
<rect x="278.18" y="203.88" width="8.515" height="6.940" fill="#0A6EC2"/>
<rect x="286.69" y="203.88" width="8.515" height="6.940" fill="#8FCF52"/>
<rect x="295.21" y="203.88" width="8.515" height="6.940" fill="#8FCF52"/>
<rect x="303.72" y="203.88" width="8.515" height="6.940" fill="#FFC000"/>
<rect x="312.24" y="203.88" width="8.515" height="6.940" fill="#8FCF52"/>
<rect x="329.27" y="203.88" width="8.515" height="6.940" fill="#0A6EC2"/>
<rect x="337.78" y="203.88" width="8.515" height="6.940" fill="#8FCF52"/>
<rect x="346.30" y="203.88" width="8.515" height="6.940" fill="#8FCF52"/>
<rect x="354.81" y="203.88" width="8.515" height="6.940" fill="#8FCF52"/>
<rect x="363.33" y="203.88" width="8.515" height="6.940" fill="#0A6EC2"/>
<rect x="371.84" y="203.88" width="8.515" height="6.940" fill="#8FCF52"/>
<rect x="380.36" y="203.88" width="8.515" height="6.940" fill="#8FCF52"/>
<rect x="388.87" y="203.88" width="8.515" height="6.940" fill="#FFC000"/>
<rect x="397.39" y="203.88" width="8.515" height="6.940" fill="#8FCF52"/>
<rect x="405.90" y="203.88" width="8.515" height="6.940" fill="#8FCF52"/>
<rect x="414.42" y="203.88" width="8.515" height="6.940" fill="#0A6EC2"/>
<rect x="422.93" y="203.88" width="8.515" height="6.940" fill="#8FCF52"/>
<rect x="431.45" y="203.88" width="8.515" height="6.940" fill="#FFC000"/>
<rect x="439.96" y="203.88" width="8.515" height="6.940" fill="#0A6EC2"/>
<rect x="448.48" y="203.88" width="8.515" height="6.940" fill="#0A6EC2"/>
<rect x="456.99" y="203.88" width="8.515" height="6.940" fill="#FFC000"/>
<rect x="465.51" y="203.88" width="8.515" height="6.940" fill="#8FCF52"/>
<rect x="474.02" y="203.88" width="8.515" height="6.940" fill="#8FCF52"/>
<rect x="482.54" y="203.88" width="8.515" height="6.940" fill="#8FCF52"/>
<rect x="491.05" y="203.88" width="8.515" height="6.940" fill="#0A6EC2"/>
<rect x="499.57" y="203.88" width="8.515" height="6.940" fill="#FFC000"/>
<rect x="508.08" y="203.88" width="8.515" height="6.940" fill="#0A6EC2"/>
<rect x="65.30" y="210.82" width="8.515" height="6.940" fill="#8FCF52"/>
<rect x="73.81" y="210.82" width="8.515" height="6.940" fill="#FFC000"/>
<rect x="82.33" y="210.82" width="8.515" height="6.940" fill="#0A6EC2"/>
<rect x="90.84" y="210.82" width="8.515" height="6.940" fill="#FFC000"/>
<rect x="99.36" y="210.82" width="8.515" height="6.940" fill="#0A6EC2"/>
<rect x="107.88" y="210.82" width="8.515" height="6.940" fill="#0A6EC2"/>
<rect x="116.39" y="210.82" width="8.515" height="6.940" fill="#8FCF52"/>
<rect x="124.91" y="210.82" width="8.515" height="6.940" fill="#FFC000"/>
<rect x="141.94" y="210.82" width="8.515" height="6.940" fill="#8FCF52"/>
<rect x="150.45" y="210.82" width="8.515" height="6.940" fill="#0A6EC2"/>
<rect x="158.97" y="210.82" width="8.515" height="6.940" fill="#0A6EC2"/>
<rect x="167.48" y="210.82" width="8.515" height="6.940" fill="#8FCF52"/>
<rect x="176.00" y="210.82" width="8.515" height="6.940" fill="#8FCF52"/>
<rect x="184.51" y="210.82" width="8.515" height="6.940" fill="#8FCF52"/>
<rect x="193.03" y="210.82" width="8.515" height="6.940" fill="#0A6EC2"/>
<rect x="201.54" y="210.82" width="8.515" height="6.940" fill="#FFC000"/>
<rect x="210.06" y="210.82" width="8.515" height="6.940" fill="#8FCF52"/>
<rect x="218.57" y="210.82" width="8.515" height="6.940" fill="#0A6EC2"/>
<rect x="227.09" y="210.82" width="8.515" height="6.940" fill="#0A6EC2"/>
<rect x="235.60" y="210.82" width="8.515" height="6.940" fill="#8FCF52"/>
<rect x="244.12" y="210.82" width="8.515" height="6.940" fill="#0A6EC2"/>
<rect x="252.63" y="210.82" width="8.515" height="6.940" fill="#8FCF52"/>
<rect x="261.15" y="210.82" width="8.515" height="6.940" fill="#8FCF52"/>
<rect x="269.66" y="210.82" width="8.515" height="6.940" fill="#8FCF52"/>
<rect x="278.18" y="210.82" width="8.515" height="6.940" fill="#0A6EC2"/>
<rect x="286.69" y="210.82" width="8.515" height="6.940" fill="#8FCF52"/>
<rect x="295.21" y="210.82" width="8.515" height="6.940" fill="#8FCF52"/>
<rect x="303.72" y="210.82" width="8.515" height="6.940" fill="#8FCF52"/>
<rect x="312.24" y="210.82" width="8.515" height="6.940" fill="#8FCF52"/>
<rect x="329.27" y="210.82" width="8.515" height="6.940" fill="#8FCF52"/>
<rect x="337.78" y="210.82" width="8.515" height="6.940" fill="#8FCF52"/>
<rect x="346.30" y="210.82" width="8.515" height="6.940" fill="#FFC000"/>
<rect x="354.81" y="210.82" width="8.515" height="6.940" fill="#8FCF52"/>
<rect x="363.33" y="210.82" width="8.515" height="6.940" fill="#8FCF52"/>
<rect x="371.84" y="210.82" width="8.515" height="6.940" fill="#8FCF52"/>
<rect x="380.36" y="210.82" width="8.515" height="6.940" fill="#8FCF52"/>
<rect x="388.87" y="210.82" width="8.515" height="6.940" fill="#0A6EC2"/>
<rect x="397.39" y="210.82" width="8.515" height="6.940" fill="#8FCF52"/>
<rect x="405.90" y="210.82" width="8.515" height="6.940" fill="#8FCF52"/>
<rect x="414.42" y="210.82" width="8.515" height="6.940" fill="#FFC000"/>
<rect x="422.93" y="210.82" width="8.515" height="6.940" fill="#FFC000"/>
<rect x="431.45" y="210.82" width="8.515" height="6.940" fill="#0A6EC2"/>
<rect x="439.96" y="210.82" width="8.515" height="6.940" fill="#FFC000"/>
<rect x="448.48" y="210.82" width="8.515" height="6.940" fill="#8FCF52"/>
<rect x="456.99" y="210.82" width="8.515" height="6.940" fill="#8FCF52"/>
<rect x="465.51" y="210.82" width="8.515" height="6.940" fill="#8FCF52"/>
<rect x="474.02" y="210.82" width="8.515" height="6.940" fill="#8FCF52"/>
<rect x="482.54" y="210.82" width="8.515" height="6.940" fill="#8FCF52"/>
<rect x="491.05" y="210.82" width="8.515" height="6.940" fill="#8FCF52"/>
<rect x="499.57" y="210.82" width="8.515" height="6.940" fill="#FFC000"/>
<rect x="508.08" y="210.82" width="8.515" height="6.940" fill="#8FCF52"/>
<rect x="65.30" y="217.76" width="8.515" height="6.940" fill="#ABA7A8"/>
<rect x="73.81" y="217.76" width="8.515" height="6.940" fill="#0A6EC2"/>
<rect x="82.33" y="217.76" width="8.515" height="6.940" fill="#E2A2A0"/>
<rect x="90.84" y="217.76" width="8.515" height="6.940" fill="#ABA7A8"/>
<rect x="99.36" y="217.76" width="8.515" height="6.940" fill="#0A6EC2"/>
<rect x="107.88" y="217.76" width="8.515" height="6.940" fill="#0A6EC2"/>
<rect x="116.39" y="217.76" width="8.515" height="6.940" fill="#0A6EC2"/>
<rect x="124.91" y="217.76" width="8.515" height="6.940" fill="#E2A2A0"/>
<rect x="133.42" y="217.76" width="8.515" height="6.940" fill="#0A6EC2"/>
<rect x="141.94" y="217.76" width="8.515" height="6.940" fill="#ABA7A8"/>
<rect x="167.48" y="217.76" width="8.515" height="6.940" fill="#ABA7A8"/>
<rect x="193.03" y="217.76" width="8.515" height="6.940" fill="#0A6EC2"/>
<rect x="201.54" y="217.76" width="8.515" height="6.940" fill="#8FCF52"/>
<rect x="210.06" y="217.76" width="8.515" height="6.940" fill="#0A6EC2"/>
<rect x="218.57" y="217.76" width="8.515" height="6.940" fill="#FFC000"/>
<rect x="235.60" y="217.76" width="8.515" height="6.940" fill="#8FCF52"/>
<rect x="244.12" y="217.76" width="8.515" height="6.940" fill="#ABA7A8"/>
<rect x="252.63" y="217.76" width="8.515" height="6.940" fill="#0A6EC2"/>
<rect x="261.15" y="217.76" width="8.515" height="6.940" fill="#0A6EC2"/>
<rect x="269.66" y="217.76" width="8.515" height="6.940" fill="#FFC000"/>
<rect x="278.18" y="217.76" width="8.515" height="6.940" fill="#8FCF52"/>
<rect x="286.69" y="217.76" width="8.515" height="6.940" fill="#0A6EC2"/>
<rect x="295.21" y="217.76" width="8.515" height="6.940" fill="#FFFA10"/>
<rect x="303.72" y="217.76" width="8.515" height="6.940" fill="#8FCF52"/>
<rect x="329.27" y="217.76" width="8.515" height="6.940" fill="#8FCF52"/>
<rect x="337.78" y="217.76" width="8.515" height="6.940" fill="#8FCF52"/>
<rect x="346.30" y="217.76" width="8.515" height="6.940" fill="#8FCF52"/>
<rect x="354.81" y="217.76" width="8.515" height="6.940" fill="#C2A9AC"/>
<rect x="363.33" y="217.76" width="8.515" height="6.940" fill="#8FCF52"/>
<rect x="371.84" y="217.76" width="8.515" height="6.940" fill="#FFC000"/>
<rect x="380.36" y="217.76" width="8.515" height="6.940" fill="#0A6EC2"/>
<rect x="388.87" y="217.76" width="8.515" height="6.940" fill="#0A6EC2"/>
<rect x="397.39" y="217.76" width="8.515" height="6.940" fill="#FFFA10"/>
<rect x="405.90" y="217.76" width="8.515" height="6.940" fill="#0A6EC2"/>
<rect x="414.42" y="217.76" width="8.515" height="6.940" fill="#5E4A7E"/>
<rect x="422.93" y="217.76" width="8.515" height="6.940" fill="#8FCF52"/>
<rect x="439.96" y="217.76" width="8.515" height="6.940" fill="#E2A2A0"/>
<rect x="448.48" y="217.76" width="8.515" height="6.940" fill="#0A6EC2"/>
<rect x="456.99" y="217.76" width="8.515" height="6.940" fill="#FFFA10"/>
<rect x="465.51" y="217.76" width="8.515" height="6.940" fill="#FFC000"/>
<rect x="474.02" y="217.76" width="8.515" height="6.940" fill="#8FCF52"/>
<rect x="482.54" y="217.76" width="8.515" height="6.940" fill="#FFC000"/>
<rect x="491.05" y="217.76" width="8.515" height="6.940" fill="#0A6EC2"/>
<rect x="499.57" y="217.76" width="8.515" height="6.940" fill="#8FCF52"/>
<rect x="508.08" y="217.76" width="8.515" height="6.940" fill="#0A6EC2"/>
<rect x="65.30" y="224.70" width="8.515" height="6.940" fill="#FFFA10"/>
<rect x="73.81" y="224.70" width="8.515" height="6.940" fill="#E2A2A0"/>
<rect x="82.33" y="224.70" width="8.515" height="6.940" fill="#ABA7A8"/>
<rect x="90.84" y="224.70" width="8.515" height="6.940" fill="#E2A2A0"/>
<rect x="99.36" y="224.70" width="8.515" height="6.940" fill="#ABA7A8"/>
<rect x="107.88" y="224.70" width="8.515" height="6.940" fill="#ABA7A8"/>
<rect x="116.39" y="224.70" width="8.515" height="6.940" fill="#ABA7A8"/>
<rect x="124.91" y="224.70" width="8.515" height="6.940" fill="#E2A2A0"/>
<rect x="133.42" y="224.70" width="8.515" height="6.940" fill="#ABA7A8"/>
<rect x="141.94" y="224.70" width="8.515" height="6.940" fill="#0A6EC2"/>
<rect x="150.45" y="224.70" width="8.515" height="6.940" fill="#FFC000"/>
<rect x="158.97" y="224.70" width="8.515" height="6.940" fill="#FFC000"/>
<rect x="167.48" y="224.70" width="8.515" height="6.940" fill="#0A6EC2"/>
<rect x="176.00" y="224.70" width="8.515" height="6.940" fill="#0A6EC2"/>
<rect x="184.51" y="224.70" width="8.515" height="6.940" fill="#FFC000"/>
<rect x="193.03" y="224.70" width="8.515" height="6.940" fill="#FFC000"/>
<rect x="201.54" y="224.70" width="8.515" height="6.940" fill="#ABA7A8"/>
<rect x="210.06" y="224.70" width="8.515" height="6.940" fill="#FFC000"/>
<rect x="218.57" y="224.70" width="8.515" height="6.940" fill="#FFC000"/>
<rect x="227.09" y="224.70" width="8.515" height="6.940" fill="#FFC000"/>
<rect x="235.60" y="224.70" width="8.515" height="6.940" fill="#8FCF52"/>
<rect x="244.12" y="224.70" width="8.515" height="6.940" fill="#FFC000"/>
<rect x="261.15" y="224.70" width="8.515" height="6.940" fill="#FFC000"/>
<rect x="269.66" y="224.70" width="8.515" height="6.940" fill="#ABA7A8"/>
<rect x="278.18" y="224.70" width="8.515" height="6.940" fill="#8FCF52"/>
<rect x="286.69" y="224.70" width="8.515" height="6.940" fill="#ABA7A8"/>
<rect x="303.72" y="224.70" width="8.515" height="6.940" fill="#8FCF52"/>
<rect x="312.24" y="224.70" width="8.515" height="6.940" fill="#FFFA10"/>
<rect x="320.75" y="224.70" width="8.515" height="6.940" fill="#E2A2A0"/>
<rect x="329.27" y="224.70" width="8.515" height="6.940" fill="#8FCF52"/>
<rect x="337.78" y="224.70" width="8.515" height="6.940" fill="#8FCF52"/>
<rect x="346.30" y="224.70" width="8.515" height="6.940" fill="#8FCF52"/>
<rect x="354.81" y="224.70" width="8.515" height="6.940" fill="#FFFA10"/>
<rect x="363.33" y="224.70" width="8.515" height="6.940" fill="#8FCF52"/>
<rect x="371.84" y="224.70" width="8.515" height="6.940" fill="#E2A2A0"/>
<rect x="380.36" y="224.70" width="8.515" height="6.940" fill="#E2A2A0"/>
<rect x="388.87" y="224.70" width="8.515" height="6.940" fill="#ABA7A8"/>
<rect x="397.39" y="224.70" width="8.515" height="6.940" fill="#FFFA10"/>
<rect x="405.90" y="224.70" width="8.515" height="6.940" fill="#FFFA10"/>
<rect x="422.93" y="224.70" width="8.515" height="6.940" fill="#8FCF52"/>
<rect x="431.45" y="224.70" width="8.515" height="6.940" fill="#FFC000"/>
<rect x="439.96" y="224.70" width="8.515" height="6.940" fill="#E2A2A0"/>
<rect x="448.48" y="224.70" width="8.515" height="6.940" fill="#ABA7A8"/>
<rect x="456.99" y="224.70" width="8.515" height="6.940" fill="#0A6EC2"/>
<rect x="465.51" y="224.70" width="8.515" height="6.940" fill="#ABA7A8"/>
<rect x="474.02" y="224.70" width="8.515" height="6.940" fill="#8FCF52"/>
<rect x="482.54" y="224.70" width="8.515" height="6.940" fill="#FFFA10"/>
<rect x="491.05" y="224.70" width="8.515" height="6.940" fill="#ABA7A8"/>
<rect x="499.57" y="224.70" width="8.515" height="6.940" fill="#8FCF52"/>
<rect x="508.08" y="224.70" width="8.515" height="6.940" fill="#ABA7A8"/>
<rect x="65.30" y="231.64" width="8.515" height="6.940" fill="#0A6EC2"/>
<rect x="73.81" y="231.64" width="8.515" height="6.940" fill="#FFC000"/>
<rect x="82.33" y="231.64" width="8.515" height="6.940" fill="#0A6EC2"/>
<rect x="90.84" y="231.64" width="8.515" height="6.940" fill="#FFC000"/>
<rect x="99.36" y="231.64" width="8.515" height="6.940" fill="#FFC000"/>
<rect x="107.88" y="231.64" width="8.515" height="6.940" fill="#FFC000"/>
<rect x="116.39" y="231.64" width="8.515" height="6.940" fill="#FFC000"/>
<rect x="124.91" y="231.64" width="8.515" height="6.940" fill="#0A6EC2"/>
<rect x="133.42" y="231.64" width="8.515" height="6.940" fill="#FFC000"/>
<rect x="141.94" y="231.64" width="8.515" height="6.940" fill="#FFC000"/>
<rect x="150.45" y="231.64" width="8.515" height="6.940" fill="#FFC000"/>
<rect x="158.97" y="231.64" width="8.515" height="6.940" fill="#0A6EC2"/>
<rect x="167.48" y="231.64" width="8.515" height="6.940" fill="#FFC000"/>
<rect x="176.00" y="231.64" width="8.515" height="6.940" fill="#FFC000"/>
<rect x="184.51" y="231.64" width="8.515" height="6.940" fill="#FFC000"/>
<rect x="193.03" y="231.64" width="8.515" height="6.940" fill="#0A6EC2"/>
<rect x="201.54" y="231.64" width="8.515" height="6.940" fill="#FFC000"/>
<rect x="210.06" y="231.64" width="8.515" height="6.940" fill="#FFC000"/>
<rect x="218.57" y="231.64" width="8.515" height="6.940" fill="#FFC000"/>
<rect x="227.09" y="231.64" width="8.515" height="6.940" fill="#FFC000"/>
<rect x="235.60" y="231.64" width="8.515" height="6.940" fill="#0A6EC2"/>
<rect x="244.12" y="231.64" width="8.515" height="6.940" fill="#FFC000"/>
<rect x="252.63" y="231.64" width="8.515" height="6.940" fill="#FFC000"/>
<rect x="261.15" y="231.64" width="8.515" height="6.940" fill="#FFC000"/>
<rect x="269.66" y="231.64" width="8.515" height="6.940" fill="#FFC000"/>
<rect x="278.18" y="231.64" width="8.515" height="6.940" fill="#FFC000"/>
<rect x="286.69" y="231.64" width="8.515" height="6.940" fill="#FFC000"/>
<rect x="295.21" y="231.64" width="8.515" height="6.940" fill="#FFC000"/>
<rect x="303.72" y="231.64" width="8.515" height="6.940" fill="#FFC000"/>
<rect x="312.24" y="231.64" width="8.515" height="6.940" fill="#FFC000"/>
<rect x="320.75" y="231.64" width="8.515" height="6.940" fill="#FFC000"/>
<rect x="329.27" y="231.64" width="8.515" height="6.940" fill="#FFC000"/>
<rect x="337.78" y="231.64" width="8.515" height="6.940" fill="#0A6EC2"/>
<rect x="346.30" y="231.64" width="8.515" height="6.940" fill="#FFC000"/>
<rect x="354.81" y="231.64" width="8.515" height="6.940" fill="#0A6EC2"/>
<rect x="363.33" y="231.64" width="8.515" height="6.940" fill="#FFC000"/>
<rect x="371.84" y="231.64" width="8.515" height="6.940" fill="#FFC000"/>
<rect x="380.36" y="231.64" width="8.515" height="6.940" fill="#FFC000"/>
<rect x="388.87" y="231.64" width="8.515" height="6.940" fill="#FFC000"/>
<rect x="397.39" y="231.64" width="8.515" height="6.940" fill="#FFC000"/>
<rect x="405.90" y="231.64" width="8.515" height="6.940" fill="#FFC000"/>
<rect x="414.42" y="231.64" width="8.515" height="6.940" fill="#FFC000"/>
<rect x="422.93" y="231.64" width="8.515" height="6.940" fill="#0A6EC2"/>
<rect x="431.45" y="231.64" width="8.515" height="6.940" fill="#FFC000"/>
<rect x="439.96" y="231.64" width="8.515" height="6.940" fill="#0A6EC2"/>
<rect x="448.48" y="231.64" width="8.515" height="6.940" fill="#FFC000"/>
<rect x="456.99" y="231.64" width="8.515" height="6.940" fill="#FFC000"/>
<rect x="465.51" y="231.64" width="8.515" height="6.940" fill="#FFC000"/>
<rect x="474.02" y="231.64" width="8.515" height="6.940" fill="#FFC000"/>
<rect x="482.54" y="231.64" width="8.515" height="6.940" fill="#0A6EC2"/>
<rect x="491.05" y="231.64" width="8.515" height="6.940" fill="#FFC000"/>
<rect x="499.57" y="231.64" width="8.515" height="6.940" fill="#FFC000"/>
<rect x="508.08" y="231.64" width="8.515" height="6.940" fill="#FFC000"/>
<rect x="90.84" y="238.58" width="8.515" height="6.940" fill="#5E4A7E"/>
<rect x="99.36" y="238.58" width="8.515" height="6.940" fill="#FFC000"/>
<rect x="107.88" y="238.58" width="8.515" height="6.940" fill="#5E4A7E"/>
<rect x="124.91" y="238.58" width="8.515" height="6.940" fill="#FFC000"/>
<rect x="133.42" y="238.58" width="8.515" height="6.940" fill="#5E4A7E"/>
<rect x="141.94" y="238.58" width="8.515" height="6.940" fill="#FFC000"/>
<rect x="150.45" y="238.58" width="8.515" height="6.940" fill="#5E4A7E"/>
<rect x="158.97" y="238.58" width="8.515" height="6.940" fill="#FFC000"/>
<rect x="167.48" y="238.58" width="8.515" height="6.940" fill="#FFC000"/>
<rect x="176.00" y="238.58" width="8.515" height="6.940" fill="#5E4A7E"/>
<rect x="184.51" y="238.58" width="8.515" height="6.940" fill="#5E4A7E"/>
<rect x="193.03" y="238.58" width="8.515" height="6.940" fill="#FFC000"/>
<rect x="201.54" y="238.58" width="8.515" height="6.940" fill="#FFC000"/>
<rect x="210.06" y="238.58" width="8.515" height="6.940" fill="#FFC000"/>
<rect x="218.57" y="238.58" width="8.515" height="6.940" fill="#5E4A7E"/>
<rect x="227.09" y="238.58" width="8.515" height="6.940" fill="#5E4A7E"/>
<rect x="235.60" y="238.58" width="8.515" height="6.940" fill="#5E4A7E"/>
<rect x="244.12" y="238.58" width="8.515" height="6.940" fill="#5E4A7E"/>
<rect x="252.63" y="238.58" width="8.515" height="6.940" fill="#5E4A7E"/>
<rect x="261.15" y="238.58" width="8.515" height="6.940" fill="#5E4A7E"/>
<rect x="269.66" y="238.58" width="8.515" height="6.940" fill="#5E4A7E"/>
<rect x="278.18" y="238.58" width="8.515" height="6.940" fill="#5E4A7E"/>
<rect x="286.69" y="238.58" width="8.515" height="6.940" fill="#5E4A7E"/>
<rect x="295.21" y="238.58" width="8.515" height="6.940" fill="#FFC000"/>
<rect x="303.72" y="238.58" width="8.515" height="6.940" fill="#5E4A7E"/>
<rect x="320.75" y="238.58" width="8.515" height="6.940" fill="#FFC000"/>
<rect x="329.27" y="238.58" width="8.515" height="6.940" fill="#5E4A7E"/>
<rect x="346.30" y="238.58" width="8.515" height="6.940" fill="#5E4A7E"/>
<rect x="354.81" y="238.58" width="8.515" height="6.940" fill="#FFC000"/>
<rect x="363.33" y="238.58" width="8.515" height="6.940" fill="#5E4A7E"/>
<rect x="371.84" y="238.58" width="8.515" height="6.940" fill="#FFC000"/>
<rect x="388.87" y="238.58" width="8.515" height="6.940" fill="#FFC000"/>
<rect x="397.39" y="238.58" width="8.515" height="6.940" fill="#5E4A7E"/>
<rect x="405.90" y="238.58" width="8.515" height="6.940" fill="#FFC000"/>
<rect x="414.42" y="238.58" width="8.515" height="6.940" fill="#FFC000"/>
<rect x="422.93" y="238.58" width="8.515" height="6.940" fill="#5E4A7E"/>
<rect x="431.45" y="238.58" width="8.515" height="6.940" fill="#5E4A7E"/>
<rect x="439.96" y="238.58" width="8.515" height="6.940" fill="#FFC000"/>
<rect x="448.48" y="238.58" width="8.515" height="6.940" fill="#FFC000"/>
<rect x="456.99" y="238.58" width="8.515" height="6.940" fill="#5E4A7E"/>
<rect x="465.51" y="238.58" width="8.515" height="6.940" fill="#FFC000"/>
<rect x="482.54" y="238.58" width="8.515" height="6.940" fill="#FFC000"/>
<rect x="491.05" y="238.58" width="8.515" height="6.940" fill="#FFC000"/>
<rect x="508.08" y="238.58" width="8.515" height="6.940" fill="#5E4A7E"/>
<rect x="65.30" y="245.52" width="8.515" height="6.940" fill="#FFC000"/>
<rect x="73.81" y="245.52" width="8.515" height="6.940" fill="#0A6EC2"/>
<rect x="82.33" y="245.52" width="8.515" height="6.940" fill="#0A6EC2"/>
<rect x="99.36" y="245.52" width="8.515" height="6.940" fill="#0A6EC2"/>
<rect x="107.88" y="245.52" width="8.515" height="6.940" fill="#FFC000"/>
<rect x="124.91" y="245.52" width="8.515" height="6.940" fill="#0A6EC2"/>
<rect x="133.42" y="245.52" width="8.515" height="6.940" fill="#8FCF52"/>
<rect x="141.94" y="245.52" width="8.515" height="6.940" fill="#0A6EC2"/>
<rect x="150.45" y="245.52" width="8.515" height="6.940" fill="#0A6EC2"/>
<rect x="167.48" y="245.52" width="8.515" height="6.940" fill="#0A6EC2"/>
<rect x="184.51" y="245.52" width="8.515" height="6.940" fill="#0A6EC2"/>
<rect x="235.60" y="245.52" width="8.515" height="6.940" fill="#0A6EC2"/>
<rect x="244.12" y="245.52" width="8.515" height="6.940" fill="#8FCF52"/>
<rect x="252.63" y="245.52" width="8.515" height="6.940" fill="#8FCF52"/>
<rect x="261.15" y="245.52" width="8.515" height="6.940" fill="#FFC000"/>
<rect x="269.66" y="245.52" width="8.515" height="6.940" fill="#FFC000"/>
<rect x="278.18" y="245.52" width="8.515" height="6.940" fill="#FFC000"/>
<rect x="286.69" y="245.52" width="8.515" height="6.940" fill="#8FCF52"/>
<rect x="295.21" y="245.52" width="8.515" height="6.940" fill="#0A6EC2"/>
<rect x="303.72" y="245.52" width="8.515" height="6.940" fill="#FFC000"/>
<rect x="312.24" y="245.52" width="8.515" height="6.940" fill="#0A6EC2"/>
<rect x="320.75" y="245.52" width="8.515" height="6.940" fill="#8FCF52"/>
<rect x="329.27" y="245.52" width="8.515" height="6.940" fill="#FFC000"/>
<rect x="337.78" y="245.52" width="8.515" height="6.940" fill="#8FCF52"/>
<rect x="354.81" y="245.52" width="8.515" height="6.940" fill="#0A6EC2"/>
<rect x="363.33" y="245.52" width="8.515" height="6.940" fill="#FFC000"/>
<rect x="371.84" y="245.52" width="8.515" height="6.940" fill="#8FCF52"/>
<rect x="388.87" y="245.52" width="8.515" height="6.940" fill="#0A6EC2"/>
<rect x="405.90" y="245.52" width="8.515" height="6.940" fill="#FFC000"/>
<rect x="448.48" y="245.52" width="8.515" height="6.940" fill="#0A6EC2"/>
<rect x="456.99" y="245.52" width="8.515" height="6.940" fill="#0A6EC2"/>
<rect x="465.51" y="245.52" width="8.515" height="6.940" fill="#0A6EC2"/>
<rect x="474.02" y="245.52" width="8.515" height="6.940" fill="#8FCF52"/>
<rect x="491.05" y="245.52" width="8.515" height="6.940" fill="#8FCF52"/>
<rect x="65.30" y="252.46" width="8.515" height="6.940" fill="#FFC000"/>
<rect x="82.33" y="252.46" width="8.515" height="6.940" fill="#0A6EC2"/>
<rect x="99.36" y="252.46" width="8.515" height="6.940" fill="#FFC000"/>
<rect x="107.88" y="252.46" width="8.515" height="6.940" fill="#FFC000"/>
<rect x="124.91" y="252.46" width="8.515" height="6.940" fill="#0A6EC2"/>
<rect x="133.42" y="252.46" width="8.515" height="6.940" fill="#FFC000"/>
<rect x="218.57" y="252.46" width="8.515" height="6.940" fill="#FFC000"/>
<rect x="252.63" y="252.46" width="8.515" height="6.940" fill="#FFC000"/>
<rect x="261.15" y="252.46" width="8.515" height="6.940" fill="#FFC000"/>
<rect x="269.66" y="252.46" width="8.515" height="6.940" fill="#FFC000"/>
<rect x="278.18" y="252.46" width="8.515" height="6.940" fill="#FFC000"/>
<rect x="286.69" y="252.46" width="8.515" height="6.940" fill="#FFC000"/>
<rect x="295.21" y="252.46" width="8.515" height="6.940" fill="#0A6EC2"/>
<rect x="303.72" y="252.46" width="8.515" height="6.940" fill="#FFC000"/>
<rect x="312.24" y="252.46" width="8.515" height="6.940" fill="#0A6EC2"/>
<rect x="320.75" y="252.46" width="8.515" height="6.940" fill="#FFC000"/>
<rect x="329.27" y="252.46" width="8.515" height="6.940" fill="#FFC000"/>
<rect x="354.81" y="252.46" width="8.515" height="6.940" fill="#FFC000"/>
<rect x="363.33" y="252.46" width="8.515" height="6.940" fill="#FFC000"/>
<rect x="371.84" y="252.46" width="8.515" height="6.940" fill="#0A6EC2"/>
<rect x="388.87" y="252.46" width="8.515" height="6.940" fill="#0A6EC2"/>
<rect x="405.90" y="252.46" width="8.515" height="6.940" fill="#FFC000"/>
<rect x="448.48" y="252.46" width="8.515" height="6.940" fill="#0A6EC2"/>
<rect x="465.51" y="252.46" width="8.515" height="6.940" fill="#0A6EC2"/>
<rect x="474.02" y="252.46" width="8.515" height="6.940" fill="#0A6EC2"/>
<rect x="491.05" y="252.46" width="8.515" height="6.940" fill="#0A6EC2"/>
<g stroke="#000" stroke-opacity="0.58" stroke-width="1.25">
<line x1="65.30" y1="190.00" x2="65.30" y2="259.40"/>
<line x1="73.81" y1="190.00" x2="73.81" y2="259.40"/>
<line x1="82.33" y1="190.00" x2="82.33" y2="259.40"/>
<line x1="90.84" y1="190.00" x2="90.84" y2="259.40"/>
<line x1="99.36" y1="190.00" x2="99.36" y2="259.40"/>
<line x1="107.88" y1="190.00" x2="107.88" y2="259.40"/>
<line x1="116.39" y1="190.00" x2="116.39" y2="259.40"/>
<line x1="124.91" y1="190.00" x2="124.91" y2="259.40"/>
<line x1="133.42" y1="190.00" x2="133.42" y2="259.40"/>
<line x1="141.94" y1="190.00" x2="141.94" y2="259.40"/>
<line x1="150.45" y1="190.00" x2="150.45" y2="259.40"/>
<line x1="158.97" y1="190.00" x2="158.97" y2="259.40"/>
<line x1="167.48" y1="190.00" x2="167.48" y2="259.40"/>
<line x1="176.00" y1="190.00" x2="176.00" y2="259.40"/>
<line x1="184.51" y1="190.00" x2="184.51" y2="259.40"/>
<line x1="193.03" y1="190.00" x2="193.03" y2="259.40"/>
<line x1="201.54" y1="190.00" x2="201.54" y2="259.40"/>
<line x1="210.06" y1="190.00" x2="210.06" y2="259.40"/>
<line x1="218.57" y1="190.00" x2="218.57" y2="259.40"/>
<line x1="227.09" y1="190.00" x2="227.09" y2="259.40"/>
<line x1="235.60" y1="190.00" x2="235.60" y2="259.40"/>
<line x1="244.12" y1="190.00" x2="244.12" y2="259.40"/>
<line x1="252.63" y1="190.00" x2="252.63" y2="259.40"/>
<line x1="261.15" y1="190.00" x2="261.15" y2="259.40"/>
<line x1="269.66" y1="190.00" x2="269.66" y2="259.40"/>
<line x1="278.18" y1="190.00" x2="278.18" y2="259.40"/>
<line x1="286.69" y1="190.00" x2="286.69" y2="259.40"/>
<line x1="295.21" y1="190.00" x2="295.21" y2="259.40"/>
<line x1="303.72" y1="190.00" x2="303.72" y2="259.40"/>
<line x1="312.24" y1="190.00" x2="312.24" y2="259.40"/>
<line x1="320.75" y1="190.00" x2="320.75" y2="259.40"/>
<line x1="329.27" y1="190.00" x2="329.27" y2="259.40"/>
<line x1="337.78" y1="190.00" x2="337.78" y2="259.40"/>
<line x1="346.30" y1="190.00" x2="346.30" y2="259.40"/>
<line x1="354.81" y1="190.00" x2="354.81" y2="259.40"/>
<line x1="363.33" y1="190.00" x2="363.33" y2="259.40"/>
<line x1="371.84" y1="190.00" x2="371.84" y2="259.40"/>
<line x1="380.36" y1="190.00" x2="380.36" y2="259.40"/>
<line x1="388.87" y1="190.00" x2="388.87" y2="259.40"/>
<line x1="397.39" y1="190.00" x2="397.39" y2="259.40"/>
<line x1="405.90" y1="190.00" x2="405.90" y2="259.40"/>
<line x1="414.42" y1="190.00" x2="414.42" y2="259.40"/>
<line x1="422.93" y1="190.00" x2="422.93" y2="259.40"/>
<line x1="431.45" y1="190.00" x2="431.45" y2="259.40"/>
<line x1="439.96" y1="190.00" x2="439.96" y2="259.40"/>
<line x1="448.48" y1="190.00" x2="448.48" y2="259.40"/>
<line x1="456.99" y1="190.00" x2="456.99" y2="259.40"/>
<line x1="465.51" y1="190.00" x2="465.51" y2="259.40"/>
<line x1="474.02" y1="190.00" x2="474.02" y2="259.40"/>
<line x1="482.54" y1="190.00" x2="482.54" y2="259.40"/>
<line x1="491.05" y1="190.00" x2="491.05" y2="259.40"/>
<line x1="499.57" y1="190.00" x2="499.57" y2="259.40"/>
<line x1="508.08" y1="190.00" x2="508.08" y2="259.40"/>
<line x1="516.60" y1="190.00" x2="516.60" y2="259.40"/>
<line x1="65.30" y1="190.00" x2="516.60" y2="190.00"/>
<line x1="65.30" y1="196.94" x2="516.60" y2="196.94"/>
<line x1="65.30" y1="203.88" x2="516.60" y2="203.88"/>
<line x1="65.30" y1="210.82" x2="516.60" y2="210.82"/>
<line x1="65.30" y1="217.76" x2="516.60" y2="217.76"/>
<line x1="65.30" y1="224.70" x2="516.60" y2="224.70"/>
<line x1="65.30" y1="231.64" x2="516.60" y2="231.64"/>
<line x1="65.30" y1="238.58" x2="516.60" y2="238.58"/>
<line x1="65.30" y1="245.52" x2="516.60" y2="245.52"/>
<line x1="65.30" y1="252.46" x2="516.60" y2="252.46"/>
<line x1="65.30" y1="259.40" x2="516.60" y2="259.40"/>
</g>
<text x="-0.6" y="195.87" font-size="6.9" font-weight="bold" fill="#111" textLength="22.8" lengthAdjust="spacingAndGlyphs">Gender</text>
<text x="-0.6" y="202.81" font-size="6.9" font-weight="bold" fill="#111" textLength="12.3" lengthAdjust="spacingAndGlyphs">Age</text>
<text x="-0.6" y="209.75" font-size="6.9" font-weight="bold" fill="#111" textLength="20.9" lengthAdjust="spacingAndGlyphs">Blast%</text>
<text x="-0.6" y="216.69" font-size="6.9" font-weight="bold" fill="#111" textLength="36.5" lengthAdjust="spacingAndGlyphs">Initial WBC</text>
<text x="-0.6" y="223.63" font-size="6.9" font-weight="bold" fill="#111" textLength="57.5" lengthAdjust="spacingAndGlyphs">FAB classification</text>
<text x="-0.6" y="230.57" font-size="6.9" font-weight="bold" fill="#111" textLength="62.1" lengthAdjust="spacingAndGlyphs">WHO classification</text>
<text x="-0.6" y="237.51" font-size="6.9" font-weight="bold" fill="#111" textLength="52.9" lengthAdjust="spacingAndGlyphs">CR achievement</text>
<text x="-0.6" y="244.45" font-size="6.9" font-weight="bold" fill="#111" textLength="27.1" lengthAdjust="spacingAndGlyphs">Allo-SCT</text>
<text x="-0.6" y="251.39" font-size="6.9" font-weight="bold" fill="#111" textLength="43.1" lengthAdjust="spacingAndGlyphs">DFS duration</text>
<text x="-0.6" y="258.33" font-size="6.9" font-weight="bold" fill="#111" textLength="39.4" lengthAdjust="spacingAndGlyphs">OS duration</text>
<rect x="65" y="262.6" width="452" height="0.8" fill="#f3f3f6"/>
<rect x="65.3" y="266.4" width="451.2" height="90.3" fill="none" stroke="#6a6a6a" stroke-width="1.3"/>
<text x="66.8" y="275.9" font-size="6.6" font-weight="bold" fill="#1a1a1a" textLength="22.9" lengthAdjust="spacingAndGlyphs">Gender</text>
<rect x="73.00" y="280.00" width="9.20" height="9.90" fill="#FFC000"/>
<rect x="73.00" y="289.90" width="9.20" height="9.90" fill="#0A6EC2"/>
<rect x="73.00" y="280.00" width="9.20" height="19.80" fill="none" stroke="#2a2a2a" stroke-width="0.9"/>
<line x1="73.00" y1="289.90" x2="82.20" y2="289.90" stroke="#2a2a2a" stroke-width="0.9"/>
<text x="84.00" y="287.65" font-size="6.6" fill="#383838" textLength="14.2" lengthAdjust="spacingAndGlyphs">Male</text>
<text x="84.00" y="297.55" font-size="6.6" fill="#383838" textLength="20.9" lengthAdjust="spacingAndGlyphs">Female</text>
<text x="125.8" y="275.9" font-size="6.6" font-weight="bold" fill="#1a1a1a" textLength="13.1" lengthAdjust="spacingAndGlyphs">AGE</text>
<rect x="124.40" y="280.00" width="9.40" height="9.85" fill="#FFC000"/>
<rect x="124.40" y="289.85" width="9.40" height="9.85" fill="#0A6EC2"/>
<rect x="124.40" y="299.70" width="9.40" height="9.85" fill="#8FCF52"/>
<rect x="124.40" y="280.00" width="9.40" height="29.55" fill="none" stroke="#2a2a2a" stroke-width="0.9"/>
<line x1="124.40" y1="289.85" x2="133.80" y2="289.85" stroke="#2a2a2a" stroke-width="0.9"/>
<line x1="124.40" y1="299.70" x2="133.80" y2="299.70" stroke="#2a2a2a" stroke-width="0.9"/>
<text x="135.70" y="287.62" font-size="6.6" fill="#383838" textLength="11.3" lengthAdjust="spacingAndGlyphs">&lt;35</text>
<text x="135.70" y="297.48" font-size="6.6" fill="#383838" textLength="16.5" lengthAdjust="spacingAndGlyphs">35-60</text>
<text x="135.70" y="307.32" font-size="6.6" fill="#383838" textLength="11.3" lengthAdjust="spacingAndGlyphs">&gt;60</text>
<text x="185.8" y="275.9" font-size="6.6" font-weight="bold" fill="#1a1a1a" textLength="21.8" lengthAdjust="spacingAndGlyphs">Blast%</text>
<rect x="184.20" y="280.00" width="8.50" height="9.85" fill="#FFC000"/>
<rect x="184.20" y="289.85" width="8.50" height="9.85" fill="#0A6EC2"/>
<rect x="184.20" y="299.70" width="8.50" height="9.85" fill="#8FCF52"/>
<rect x="184.20" y="280.00" width="8.50" height="29.55" fill="none" stroke="#2a2a2a" stroke-width="0.9"/>
<line x1="184.20" y1="289.85" x2="192.70" y2="289.85" stroke="#2a2a2a" stroke-width="0.9"/>
<line x1="184.20" y1="299.70" x2="192.70" y2="299.70" stroke="#2a2a2a" stroke-width="0.9"/>
<text x="195.00" y="287.62" font-size="6.6" fill="#383838" textLength="17.3" lengthAdjust="spacingAndGlyphs">&lt;30%</text>
<text x="195.00" y="297.48" font-size="6.6" fill="#383838" textLength="22.4" lengthAdjust="spacingAndGlyphs">30-70%</text>
<text x="195.00" y="307.32" font-size="6.6" fill="#383838" textLength="17.3" lengthAdjust="spacingAndGlyphs">&gt;70%</text>
<text x="236.9" y="275.9" font-size="6.6" font-weight="bold" fill="#1a1a1a" textLength="36.9" lengthAdjust="spacingAndGlyphs">Initial WBC</text>
<rect x="243.60" y="280.00" width="8.90" height="9.85" fill="#FFC000"/>
<rect x="243.60" y="289.85" width="8.90" height="9.85" fill="#0A6EC2"/>
<rect x="243.60" y="299.70" width="8.90" height="9.85" fill="#8FCF52"/>
<rect x="243.60" y="280.00" width="8.90" height="29.55" fill="none" stroke="#2a2a2a" stroke-width="0.9"/>
<line x1="243.60" y1="289.85" x2="252.50" y2="289.85" stroke="#2a2a2a" stroke-width="0.9"/>
<line x1="243.60" y1="299.70" x2="252.50" y2="299.70" stroke="#2a2a2a" stroke-width="0.9"/>
<text x="254.50" y="287.62" font-size="6.6" fill="#383838" textLength="19.7" lengthAdjust="spacingAndGlyphs">&lt;3000</text>
<text x="254.50" y="297.48" font-size="6.6" fill="#383838" textLength="40.8" lengthAdjust="spacingAndGlyphs">3000 - 10000</text>
<text x="254.50" y="307.32" font-size="6.6" fill="#383838" textLength="24.8" lengthAdjust="spacingAndGlyphs">&gt; 10000</text>
<text x="296.9" y="275.9" font-size="6.6" font-weight="bold" fill="#1a1a1a" textLength="57.9" lengthAdjust="spacingAndGlyphs">FAB classification</text>
<rect x="312.00" y="280.50" width="8.70" height="9.57" fill="#5E4A7E"/>
<rect x="312.00" y="290.07" width="8.70" height="9.57" fill="#FFC000"/>
<rect x="312.00" y="299.64" width="8.70" height="9.57" fill="#0A6EC2"/>
<rect x="312.00" y="309.21" width="8.70" height="9.57" fill="#8FCF52"/>
<rect x="312.00" y="318.78" width="8.70" height="9.57" fill="#ABA7A8"/>
<rect x="312.00" y="328.35" width="8.70" height="9.57" fill="#FFFA10"/>
<rect x="312.00" y="280.50" width="8.70" height="57.42" fill="none" stroke="#2a2a2a" stroke-width="0.9"/>
<line x1="312.00" y1="290.07" x2="320.70" y2="290.07" stroke="#2a2a2a" stroke-width="0.9"/>
<line x1="312.00" y1="299.64" x2="320.70" y2="299.64" stroke="#2a2a2a" stroke-width="0.9"/>
<line x1="312.00" y1="309.21" x2="320.70" y2="309.21" stroke="#2a2a2a" stroke-width="0.9"/>
<line x1="312.00" y1="318.78" x2="320.70" y2="318.78" stroke="#2a2a2a" stroke-width="0.9"/>
<line x1="312.00" y1="328.35" x2="320.70" y2="328.35" stroke="#2a2a2a" stroke-width="0.9"/>
<text x="322.30" y="287.99" font-size="6.6" fill="#383838" textLength="9.9" lengthAdjust="spacingAndGlyphs">M0</text>
<text x="322.30" y="297.56" font-size="6.6" fill="#383838" textLength="9.9" lengthAdjust="spacingAndGlyphs">M1</text>
<text x="322.30" y="307.12" font-size="6.6" fill="#383838" textLength="9.9" lengthAdjust="spacingAndGlyphs">M2</text>
<text x="322.30" y="316.69" font-size="6.6" fill="#383838" textLength="9.9" lengthAdjust="spacingAndGlyphs">M3</text>
<text x="322.30" y="326.26" font-size="6.6" fill="#383838" textLength="9.9" lengthAdjust="spacingAndGlyphs">M4</text>
<text x="322.30" y="335.84" font-size="6.6" fill="#383838" textLength="9.9" lengthAdjust="spacingAndGlyphs">M5</text>
<text x="364.6" y="275.9" font-size="6.6" font-weight="bold" fill="#1a1a1a" textLength="62.8" lengthAdjust="spacingAndGlyphs">WHO classification</text>
<rect x="371.30" y="280.40" width="9.20" height="9.65" fill="#FFC000"/>
<rect x="371.30" y="290.05" width="9.20" height="9.65" fill="#0A6EC2"/>
<rect x="371.30" y="299.70" width="9.20" height="9.65" fill="#8FCF52"/>
<rect x="371.30" y="309.35" width="9.20" height="9.65" fill="#ABA7A8"/>
<rect x="371.30" y="319.00" width="9.20" height="9.65" fill="#FFFA10"/>
<rect x="371.30" y="328.65" width="9.20" height="9.65" fill="#F8C6A4"/>
<rect x="371.30" y="280.40" width="9.20" height="57.90" fill="none" stroke="#2a2a2a" stroke-width="0.9"/>
<line x1="371.30" y1="290.05" x2="380.50" y2="290.05" stroke="#2a2a2a" stroke-width="0.9"/>
<line x1="371.30" y1="299.70" x2="380.50" y2="299.70" stroke="#2a2a2a" stroke-width="0.9"/>
<line x1="371.30" y1="309.35" x2="380.50" y2="309.35" stroke="#2a2a2a" stroke-width="0.9"/>
<line x1="371.30" y1="319.00" x2="380.50" y2="319.00" stroke="#2a2a2a" stroke-width="0.9"/>
<line x1="371.30" y1="328.65" x2="380.50" y2="328.65" stroke="#2a2a2a" stroke-width="0.9"/>
<text x="382.00" y="287.92" font-size="6.6" fill="#383838" textLength="26.4" lengthAdjust="spacingAndGlyphs">AMLETO</text>
<text x="382.00" y="297.57" font-size="6.6" fill="#383838" textLength="16.2" lengthAdjust="spacingAndGlyphs">inv16</text>
<text x="382.00" y="307.22" font-size="6.6" fill="#383838" textLength="11.3" lengthAdjust="spacingAndGlyphs">APL</text>
<text x="382.00" y="316.87" font-size="6.6" fill="#383838" textLength="28.4" lengthAdjust="spacingAndGlyphs">NK-FLT3-</text>
<text x="382.00" y="326.52" font-size="6.6" fill="#383838" textLength="28.7" lengthAdjust="spacingAndGlyphs">NK-FLT3+</text>
<text x="382.00" y="336.17" font-size="6.6" fill="#383838" textLength="20.6" lengthAdjust="spacingAndGlyphs">Others</text>
<text x="441.2" y="275.9" font-size="6.6" font-weight="bold" fill="#1a1a1a" textLength="53.2" lengthAdjust="spacingAndGlyphs">CR achievement</text>
<rect x="439.60" y="280.60" width="8.70" height="9.40" fill="#FFC000"/>
<rect x="439.60" y="290.00" width="8.70" height="9.40" fill="#0A6EC2"/>
<rect x="439.60" y="280.60" width="8.70" height="18.80" fill="none" stroke="#2a2a2a" stroke-width="0.9"/>
<line x1="439.60" y1="290.00" x2="448.30" y2="290.00" stroke="#2a2a2a" stroke-width="0.9"/>
<text x="449.90" y="288.00" font-size="6.6" fill="#383838" textLength="41.0" lengthAdjust="spacingAndGlyphs">1st induction</text>
<text x="449.90" y="297.40" font-size="6.6" fill="#383838" textLength="58.8" lengthAdjust="spacingAndGlyphs">more than 2 times</text>
<text x="75.3" y="316.4" font-size="6.6" font-weight="bold" fill="#1a1a1a" textLength="27.5" lengthAdjust="spacingAndGlyphs">Allo-SCT</text>
<rect x="73.20" y="318.30" width="9.70" height="9.70" fill="#FFC000"/>
<rect x="73.20" y="328.00" width="9.70" height="9.70" fill="#5E4A7E"/>
<rect x="73.20" y="318.30" width="9.70" height="19.40" fill="none" stroke="#2a2a2a" stroke-width="0.9"/>
<line x1="73.20" y1="328.00" x2="82.90" y2="328.00" stroke="#2a2a2a" stroke-width="0.9"/>
<text x="84.30" y="325.85" font-size="6.6" fill="#383838" textLength="43.0" lengthAdjust="spacingAndGlyphs">Received BMT</text>
<text x="84.30" y="335.55" font-size="6.6" fill="#383838" textLength="33.2" lengthAdjust="spacingAndGlyphs">No receive</text>
<text x="152.0" y="316.4" font-size="6.6" font-weight="bold" fill="#1a1a1a" textLength="43.2" lengthAdjust="spacingAndGlyphs">DFS duration</text>
<rect x="158.40" y="318.40" width="9.20" height="9.70" fill="#FFC000"/>
<rect x="158.40" y="328.10" width="9.20" height="9.70" fill="#0A6EC2"/>
<rect x="158.40" y="337.80" width="9.20" height="9.70" fill="#8FCF52"/>
<rect x="158.40" y="318.40" width="9.20" height="29.10" fill="none" stroke="#2a2a2a" stroke-width="0.9"/>
<line x1="158.40" y1="328.10" x2="167.60" y2="328.10" stroke="#2a2a2a" stroke-width="0.9"/>
<line x1="158.40" y1="337.80" x2="167.60" y2="337.80" stroke="#2a2a2a" stroke-width="0.9"/>
<text x="168.80" y="325.95" font-size="6.6" fill="#383838" textLength="18.9" lengthAdjust="spacingAndGlyphs">Cured</text>
<text x="168.80" y="335.65" font-size="6.6" fill="#383838" textLength="42.0" lengthAdjust="spacingAndGlyphs">Short relapse</text>
<text x="168.80" y="345.35" font-size="6.6" fill="#383838" textLength="54.9" lengthAdjust="spacingAndGlyphs">Late relapse (1Yr)</text>
<text x="228.0" y="316.4" font-size="6.6" font-weight="bold" fill="#1a1a1a" textLength="37.5" lengthAdjust="spacingAndGlyphs">OS duration</text>
<rect x="227.40" y="318.40" width="8.80" height="9.70" fill="#0A6EC2"/>
<rect x="227.40" y="328.10" width="8.80" height="9.70" fill="#FFC000"/>
<rect x="227.40" y="318.40" width="8.80" height="19.40" fill="none" stroke="#2a2a2a" stroke-width="0.9"/>
<line x1="227.40" y1="328.10" x2="236.20" y2="328.10" stroke="#2a2a2a" stroke-width="0.9"/>
<text x="237.20" y="325.95" font-size="6.6" fill="#383838" textLength="35.3" lengthAdjust="spacingAndGlyphs">Early death</text>
<text x="237.20" y="335.65" font-size="6.6" fill="#383838" textLength="39.0" lengthAdjust="spacingAndGlyphs">Long survive</text>
</svg></body></html>
